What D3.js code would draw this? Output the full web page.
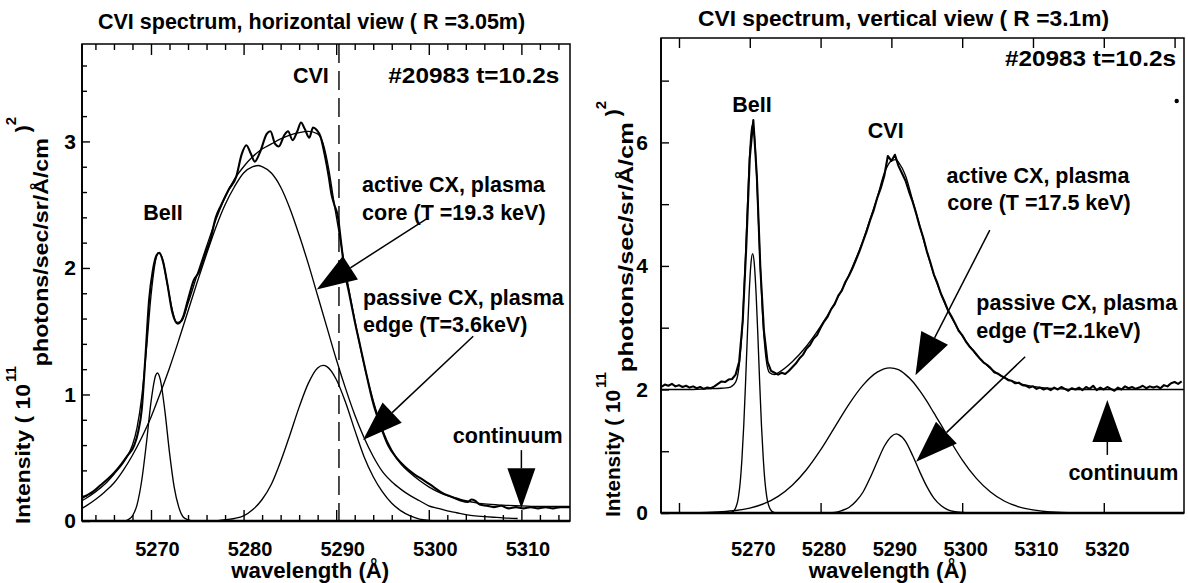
<!DOCTYPE html>
<html>
<head>
<meta charset="utf-8">
<script src="https://cdn.jsdelivr.net/npm/d3@7/dist/d3.min.js"></script>
<style>
  html, body { margin: 0; padding: 0; background: #fff; }
  svg { display: block; }
  svg text { font-family: "Liberation Sans", Arial, Helvetica, sans-serif; font-weight: bold; fill: #000; }
</style>
</head>
<body>
<svg id="figure" width="1188" height="583"></svg>
<script>
// ================= Horizontal view, R = 3.05 m =================
const hTitle = "CVI spectrum, horizontal view ( R =3.05m)";
const hShot = "#20983 t=10.2s";
const hWavelengthDomain = [5262.55, 5315.25];
const hIntensityDomain = [0, 3.77];
const hXMajorTicks = [5270, 5280, 5290, 5300, 5310];
const hXMinorTicks = [5264, 5266, 5268, 5272, 5274, 5276, 5278, 5282, 5284, 5286, 5288,
                      5292, 5294, 5296, 5298, 5302, 5304, 5306, 5308, 5312, 5314];
const hYMajorTicks = [0, 1, 2, 3];
const hYMinorTicks = [0.2, 0.4, 0.6, 0.8, 1.2, 1.4, 1.6, 1.8, 2.2, 2.4, 2.6, 2.8, 3.2, 3.4, 3.6];
const hCVIRestWavelength = 5290.3;

// measured spectrum [wavelength (Å), intensity]
const hMeasured = [
  [5262.55,0.18],[5263,0.20],[5263.7,0.23],[5264.5,0.28],[5265.3,0.33],[5266,0.38],[5266.8,0.45],
  [5267.5,0.52],[5268.2,0.60],[5268.6,0.70],[5269,0.88],[5269.4,1.30],[5269.8,1.75],[5270.2,1.98],
  [5270.6,2.10],[5270.9,2.12],[5271.3,2.05],[5271.8,1.86],[5272.3,1.65],[5272.9,1.56],[5273.4,1.60],
  [5274,1.75],[5274.6,1.90],[5275.2,1.97],[5275.8,2.10],[5276.4,2.22],[5277,2.40],[5277.6,2.50],
  [5278.4,2.62],[5279.2,2.72],[5279.8,2.90],[5280.3,2.97],[5280.8,2.90],[5281.2,2.84],[5281.8,2.92],
  [5282.5,3.06],[5282.9,3.08],[5283.4,2.98],[5283.8,2.96],[5284.4,3.05],[5284.8,3.08],[5285.3,3.01],
  [5285.8,3.08],[5286.2,3.15],[5286.6,3.10],[5287.1,3.03],[5287.5,3.11],[5287.9,3.09],[5288.3,3.04],
  [5288.8,2.88],[5289.2,2.72],[5289.5,2.58],[5289.8,2.50],[5290.2,2.40],[5290.5,2.22],[5290.9,1.98],
  [5291.4,1.80],[5292,1.58],[5292.6,1.38],[5293.2,1.18],[5294,0.93],[5294.8,0.75],[5295.6,0.60],
  [5296.5,0.50],[5297.4,0.43],[5298.4,0.37],[5299.5,0.32],[5300.5,0.27],[5301.5,0.22],[5302.5,0.19],
  [5303.5,0.16],[5304.2,0.15],[5304.6,0.17],[5305,0.16],[5305.5,0.13],[5306.3,0.12],[5307,0.11],
  [5307.8,0.12],[5308.6,0.10],[5309.4,0.11],[5310.2,0.10],[5311,0.11],[5311.8,0.10],[5312.6,0.11],
  [5313.4,0.10],[5314.2,0.11],[5315.25,0.11]
];
// total fitted spectrum
const hTotalFit = [
  [5262.55,0.16],[5263,0.18],[5264,0.23],[5265,0.29],[5266,0.37],[5267,0.46],[5267.5,0.52],[5268,0.60],
  [5268.5,0.74],[5269,0.98],[5269.5,1.35],[5270,1.78],[5270.5,2.06],[5270.8,2.12],[5271.2,2.08],
  [5271.7,1.90],[5272.2,1.70],[5272.8,1.57],[5273.3,1.58],[5274,1.72],[5275,1.95],[5276,2.17],
  [5277,2.38],[5278,2.56],[5279,2.70],[5280,2.80],[5281,2.88],[5282,2.94],[5283,2.98],[5284,3.02],
  [5285,3.05],[5286,3.07],[5287,3.08],[5288,3.06],[5288.6,2.98],[5289.2,2.78],[5289.8,2.50],
  [5290.5,2.20],[5291,1.98],[5291.5,1.78],[5292,1.59],[5292.5,1.41],[5293,1.24],[5294,0.95],
  [5295,0.72],[5296,0.56],[5297,0.45],[5298,0.38],[5299,0.32],[5300,0.27],[5301,0.23],[5302,0.20],
  [5303,0.18],[5304,0.16],[5305,0.145],[5306,0.135],[5308,0.125],[5310,0.12],[5312,0.115],[5315.25,0.115]
];
// BeII line component
const hBeII = [
  [5266.5,0],[5267,0.0],[5267.5,0.01],[5268,0.04],[5268.5,0.13],[5269,0.32],[5269.5,0.61],[5270,0.94],
  [5270.5,1.15],[5270.7,1.17],[5271,1.12],[5271.5,0.87],[5272,0.54],[5272.5,0.27],[5273,0.11],
  [5273.5,0.03],[5274,0.01],[5274.5,0],[5275,0]
];
// active CX component (plasma core)
const hActiveCX = [
  [5262.55,0.10],[5263,0.12],[5264,0.17],[5265,0.23],[5266,0.30],[5267,0.40],[5268,0.52],[5269,0.66],
  [5270,0.82],[5271,1.01],[5272,1.21],[5273,1.43],[5274,1.66],[5275,1.89],[5276,2.11],[5277,2.32],
  [5278,2.50],[5279,2.64],[5280,2.75],[5281,2.80],[5281.6,2.81],[5282,2.80],[5283,2.75],[5284,2.64],
  [5285,2.47],[5286,2.26],[5287,2.03],[5288,1.78],[5289,1.53],[5290,1.28],[5291,1.05],[5292,0.84],
  [5293,0.66],[5294,0.51],[5295,0.39],[5296,0.31],[5297,0.25],[5298,0.20],[5299,0.16],[5300,0.12],
  [5301,0.10],[5302,0.08],[5303,0.065],[5304,0.05],[5305,0.04],[5306,0.035],[5307,0.03],[5308,0.025],
  [5309.6,0.02]
];
// passive CX component (plasma edge)
const hPassiveCX = [
  [5277,0],[5278,0.01],[5279,0.02],[5280,0.04],[5281,0.09],[5282,0.17],[5283,0.29],[5284,0.47],
  [5285,0.68],[5286,0.90],[5287,1.09],[5288,1.21],[5288.6,1.23],[5289,1.22],[5290,1.12],[5291,0.94],
  [5292,0.72],[5293,0.51],[5294,0.35],[5295,0.23],[5296,0.14],[5297,0.08],[5298,0.04],[5299,0.015],
  [5300,0.005],[5301,0]
];
const hArrows = [
  { tail: [5299.8, 2.39], tip: [5287.9, 1.83] },
  { tail: [5304.8, 1.46], tip: [5292.9, 0.64] },
  { tail: [5310.0, 0.56], tip: [5310.0, 0.10] }
];
const hLabels = [
  { text: "CVI", at: [5289.2, 3.46], anchor: "end" },
  { text: hShot, at: [5314.1, 3.46], anchor: "end", fit: 171 },
  { text: "BeII", at: [5271.3, 2.38], anchor: "middle" },
  { text: "active CX, plasma", at: [5292.8, 2.60], anchor: "start" },
  { text: "core (T =19.3 keV)", at: [5292.8, 2.38], anchor: "start" },
  { text: "passive CX, plasma", at: [5292.9, 1.71], anchor: "start" },
  { text: "edge (T=3.6keV)", at: [5292.9, 1.49], anchor: "start" },
  { text: "continuum", at: [5302.6, 0.62], anchor: "start" }
];

// ================= Vertical view, R = 3.1 m =================
const vTitle = "CVI spectrum, vertical view ( R =3.1m)";
const vShot = "#20983 t=10.2s";
const vWavelengthDomain = [5257.46, 5331.33];
const vIntensityDomain = [0, 7.69];
const vXTopTicks = [5260, 5270, 5280, 5290, 5300, 5310, 5320, 5330];
const vXBottomTicks = [5260, 5280, 5300, 5320];
const vXTickLabels = [5270, 5280, 5290, 5300, 5310, 5320];
const vYTicks = [0, 1, 2, 3, 4, 5, 6, 7];
const vYTickLabels = [0, 2, 4, 6];

// measured spectrum, one value per 0.5 Å channel starting at 5257.5 Å
const vChannelStart = 5257.5;
const vChannelWidth = 0.5;
const vMeasured = [
  2.04,2.08,2.06,2.09,2.05,2.07,2.04,2.06,2.03,2.05,2.02,2.04,2.01,2.03,2.02,2.05,2.09,2.13,2.12,2.16,
  2.17,2.24,2.45,3.10,4.30,5.75,6.36,5.45,3.95,2.95,2.45,2.30,2.27,2.24,2.27,2.25,2.30,2.36,2.42,2.50,
  2.56,2.66,2.72,2.82,2.88,3.00,3.10,3.18,3.30,3.38,3.52,3.60,3.74,3.84,3.96,4.10,4.24,4.40,4.56,4.74,
  4.90,5.10,5.26,5.46,5.78,5.70,5.80,5.62,5.50,5.38,5.20,5.04,4.85,4.64,4.46,4.24,4.06,3.86,3.72,3.55,
  3.42,3.28,3.18,3.07,2.95,2.88,2.78,2.70,2.64,2.57,2.50,2.44,2.40,2.35,2.28,2.26,2.22,2.19,2.15,2.14,
  2.10,2.11,2.07,2.06,2.03,2.05,2.01,2.03,2.00,2.02,1.99,2.03,2.00,2.04,2.01,1.98,2.02,2.00,2.03,1.99,
  2.04,2.01,2.06,1.99,2.03,2.00,2.04,2.01,1.98,2.03,2.00,2.05,2.02,2.04,2.01,2.03,2.06,2.02,2.05,2.03,
  2.05,2.02,2.07,2.05,2.10,2.12,2.09,2.13
];
const vTotalFit = [
  [5257.46,2.00],[5262,2.00],[5264,2.01],[5266,2.02],[5267,2.03],[5268,2.12],[5268.5,2.39],[5269,3.13],
  [5269.4,4.16],[5269.7,5.06],[5270,5.84],[5270.2,6.17],[5270.4,6.29],[5270.6,6.18],[5270.8,5.86],
  [5271.1,5.10],[5271.4,4.22],[5271.8,3.22],[5272.3,2.50],[5272.8,2.27],[5273.5,2.24],[5274,2.27],
  [5276,2.45],[5278,2.70],[5280,3.02],[5282,3.40],[5283,3.61],[5284,3.85],[5285,4.12],[5286,4.41],
  [5287,4.76],[5288,5.11],[5289,5.50],[5290,5.70],[5290.7,5.72],[5291,5.68],[5292,5.46],[5293,5.06],
  [5294,4.65],[5295,4.24],[5296,3.86],[5297,3.55],[5298,3.28],[5299,3.06],[5300,2.87],[5302,2.56],
  [5304,2.34],[5306,2.19],[5308,2.10],[5310,2.05],[5312,2.02],[5314,2.01],[5316,2.00],[5331.33,2.00]
];
const vBeII = [
  [5266.4,0],[5266.9,0],[5267.4,0.01],[5267.9,0.06],[5268.4,0.26],[5268.65,0.50],[5268.9,0.89],
  [5269.15,1.42],[5269.4,2.10],[5269.65,2.85],[5269.9,3.53],[5270.15,4.02],[5270.4,4.20],[5270.65,4.02],
  [5270.9,3.53],[5271.15,2.85],[5271.4,2.10],[5271.65,1.42],[5271.9,0.89],[5272.15,0.50],[5272.4,0.26],
  [5272.9,0.06],[5273.4,0.01],[5273.9,0],[5274.4,0]
];
const vActiveCX = [
  [5262,0],[5264,0.01],[5266,0.02],[5268,0.04],[5270,0.08],[5272,0.15],[5274,0.27],[5276,0.45],
  [5278,0.70],[5280,1.02],[5282,1.39],[5284,1.76],[5286,2.07],[5288,2.28],[5289.8,2.35],[5291,2.32],
  [5292,2.24],[5293,2.13],[5294,1.98],[5295,1.81],[5296,1.62],[5297,1.43],[5298,1.23],[5299,1.04],
  [5300,0.86],[5302,0.56],[5304,0.34],[5306,0.19],[5308,0.10],[5310,0.05],[5312,0.02],[5314,0.01],[5316,0]
];
const vPassiveCX = [
  [5280,0],[5282,0.01],[5283,0.04],[5284,0.09],[5285,0.19],[5286,0.34],[5287,0.57],[5288,0.83],
  [5289,1.08],[5290,1.24],[5290.7,1.28],[5291,1.27],[5292,1.16],[5293,0.93],[5294,0.67],[5295,0.43],
  [5296,0.24],[5297,0.12],[5298,0.05],[5299,0.02],[5300,0.01],[5301,0]
];
const vArrows = [
  { tail: [5303.9, 4.58], tip: [5293.4, 2.23] },
  { tail: [5308.9, 2.53], tip: [5293.5, 0.83] },
  { tail: [5320.5, 0.94], tip: [5320.5, 1.83] }
];
const vLabels = [
  { text: vShot, at: [5330.2, 7.23], anchor: "end", fit: 171 },
  { text: "BeII", at: [5270.3, 6.49], anchor: "middle" },
  { text: "CVI", at: [5289.2, 6.07], anchor: "middle" },
  { text: "active CX, plasma", at: [5297.8, 5.34], anchor: "start" },
  { text: "core (T =17.5 keV)", at: [5297.9, 4.90], anchor: "start" },
  { text: "passive CX, plasma", at: [5302.0, 3.28], anchor: "start" },
  { text: "edge (T=2.1keV)", at: [5302.0, 2.83], anchor: "start" },
  { text: "continuum", at: [5315.0, 0.53], anchor: "start" }
];
const vSpeck = [5330.3, 6.67];

// ================= drawing =================
const svg = d3.select("#figure");
const defs = svg.append("defs");

function drawPanel(p) {
  const x = d3.scaleLinear().domain(p.xDomain).range([p.box.left, p.box.right]);
  const y = d3.scaleLinear().domain(p.yDomain).range([p.box.bottom, p.box.top]);
  const g = svg.append("g");

  defs.append("clipPath").attr("id", p.id + "-clip").append("rect")
    .attr("x", p.box.left).attr("y", p.box.top)
    .attr("width", p.box.right - p.box.left).attr("height", p.box.bottom - p.box.top);
  const plot = g.append("g").attr("clip-path", `url(#${p.id}-clip)`);

  // tick marks pointing into the frame
  const ticks = (axisFn, values, size, tr) => {
    if (!values || !values.length) return;
    g.append("g").attr("transform", tr)
      .call(axisFn(axisFn === d3.axisBottom || axisFn === d3.axisTop ? x : y)
        .tickValues(values).tickSizeInner(-size).tickSizeOuter(0).tickFormat(""))
      .call(a => a.select(".domain").remove())
      .call(a => a.selectAll("line").attr("stroke", "#000").attr("stroke-width", 1.4));
  };
  ticks(d3.axisBottom, p.xBottomMajor, p.majorLen, `translate(0,${p.box.bottom})`);
  ticks(d3.axisBottom, p.xBottomMinor, p.minorLen, `translate(0,${p.box.bottom})`);
  ticks(d3.axisTop, p.xTopMajor, p.majorLen, `translate(0,${p.box.top})`);
  ticks(d3.axisTop, p.xTopMinor, p.minorLen, `translate(0,${p.box.top})`);
  ticks(d3.axisLeft, p.yMajor, p.yMajorLen, `translate(${p.box.left},0)`);
  ticks(d3.axisLeft, p.yMinor, p.yMinorLen, `translate(${p.box.left},0)`);

  // tick labels
  g.append("g").attr("transform", `translate(${p.xLabelShift},${p.box.bottom})`)
    .call(d3.axisBottom(x).tickValues(p.xLabels).tickSize(0).tickPadding(p.xLabelPad).tickFormat(d3.format("d")))
    .call(a => a.select(".domain").remove())
    .call(a => a.selectAll("text").attr("dy", null))
    .attr("font-size", 20).attr("font-family", null);
  g.append("g").attr("transform", `translate(${p.box.left},0)`)
    .call(d3.axisLeft(y).tickValues(p.yLabels).tickSize(0).tickPadding(p.yLabelPad).tickFormat(d3.format("d")))
    .call(a => a.select(".domain").remove())
    .attr("font-size", 21).attr("font-family", null);

  // spectra
  const smooth = d3.line().x(d => x(d[0])).y(d => y(d[1])).curve(d3.curveMonotoneX);
  const raw = d3.line().x(d => x(d[0])).y(d => y(d[1]));
  p.components.forEach(c => plot.append("path").attr("d", smooth(c)).attr("fill", "none")
    .attr("stroke", "#000").attr("stroke-width", 1.35).attr("stroke-linejoin", "round"));
  plot.append("path").attr("d", smooth(p.fit)).attr("fill", "none")
    .attr("stroke", "#000").attr("stroke-width", 1.35);
  plot.append("path").attr("d", (p.measuredSmooth ? smooth : raw)(p.measured)).attr("fill", "none")
    .attr("stroke", "#000").attr("stroke-width", p.measuredWidth).attr("stroke-linejoin", "round");

  if (p.restLine !== undefined) {
    plot.append("line").attr("x1", x(p.restLine)).attr("x2", x(p.restLine))
      .attr("y1", p.box.top).attr("y2", p.box.bottom)
      .attr("stroke", "#000").attr("stroke-width", 1.4).attr("stroke-dasharray", "19,8");
  }

  // frame
  g.append("rect").attr("x", p.box.left).attr("y", p.box.top)
    .attr("width", p.box.right - p.box.left).attr("height", p.box.bottom - p.box.top)
    .attr("fill", "none").attr("stroke", "#000").attr("stroke-width", 1.5);
  g.append("line").attr("x1", p.box.left).attr("x2", p.box.right)
    .attr("y1", p.box.bottom).attr("y2", p.box.bottom).attr("stroke", "#000").attr("stroke-width", 2.6);
  g.append("line").attr("x1", p.box.left).attr("x2", p.box.left)
    .attr("y1", p.box.top).attr("y2", p.box.bottom).attr("stroke", "#000").attr("stroke-width", 1.8);

  // annotation arrows
  p.arrows.forEach(a => {
    const tip = [x(a.tip[0]), y(a.tip[1])], tail = [x(a.tail[0]), y(a.tail[1])];
    const dx = tail[0] - tip[0], dy = tail[1] - tip[1], len = Math.hypot(dx, dy);
    const ux = dx / len, uy = dy / len, nx = -uy, ny = ux;
    const bx = tip[0] + ux * p.headLen, by = tip[1] + uy * p.headLen;
    g.append("line").attr("x1", tail[0]).attr("y1", tail[1]).attr("x2", bx).attr("y2", by)
      .attr("stroke", "#000").attr("stroke-width", 1.5);
    g.append("path")
      .attr("d", `M${tip[0]},${tip[1]}L${bx + nx * p.headWidth / 2},${by + ny * p.headWidth / 2}` +
                 `L${bx - nx * p.headWidth / 2},${by - ny * p.headWidth / 2}Z`)
      .attr("fill", "#000");
  });

  // annotation text
  p.labels.forEach(l => {
    const t = g.append("text").attr("x", x(l.at[0])).attr("y", y(l.at[1]))
      .attr("text-anchor", l.anchor).attr("font-size", 21.5).text(l.text);
    if (l.fit) t.attr("textLength", l.fit).attr("lengthAdjust", "spacingAndGlyphs");
  });
  if (p.speck) g.append("circle").attr("cx", x(p.speck[0])).attr("cy", y(p.speck[1])).attr("r", 2.2);

  // title
  const title = g.append("text").attr("x", p.title.x).attr("y", p.title.y)
    .attr("font-size", 21.5).text(p.title.text);
  if (p.title.fit) title.attr("textLength", p.title.fit).attr("lengthAdjust", "spacingAndGlyphs");

  // axis titles
  g.append("text").attr("x", x(p.xTitleAt)).attr("y", p.xTitleY).attr("text-anchor", "middle")
    .attr("font-size", 21.5).attr("textLength", 158).attr("lengthAdjust", "spacingAndGlyphs")
    .text("wavelength (Å)");
  const t = p.yTitle;
  const yt = g.append("text").attr("transform", `translate(${t.x},${t.y}) rotate(-90)`)
    .attr("font-size", 21);
  yt.append("tspan").attr("textLength", t.lead).attr("lengthAdjust", "spacingAndGlyphs")
    .text("Intensity ( 10");
  yt.append("tspan").attr("dx", 2).attr("dy", -14).attr("font-size", 15).text("11");
  yt.append("tspan").attr("dy", 14 + t.drop).attr("textLength", t.unit).attr("lengthAdjust", "spacingAndGlyphs")
    .text("photons/sec/sr/Å/cm");
  yt.append("tspan").attr("dy", -t.drop).text(" )");
  yt.append("tspan").attr("dy", -14).attr("font-size", 15).text("2");
}

drawPanel({
  id: "horizontal",
  box: { left: 82, right: 570, top: 44, bottom: 521 },
  xDomain: hWavelengthDomain, yDomain: hIntensityDomain,
  xBottomMajor: hXMajorTicks, xBottomMinor: hXMinorTicks,
  xTopMajor: hXMajorTicks, xTopMinor: hXMinorTicks,
  majorLen: 11, minorLen: 6,
  yMajor: hYMajorTicks, yMinor: hYMinorTicks, yMajorLen: 8, yMinorLen: 5,
  xLabels: hXMajorTicks, xLabelPad: 35, xLabelShift: 6,
  yLabels: hYMajorTicks, yLabelPad: 6,
  components: [hBeII, hActiveCX, hPassiveCX],
  fit: hTotalFit, measured: hMeasured, measuredSmooth: true, measuredWidth: 2.1,
  restLine: hCVIRestWavelength,
  arrows: hArrows, headLen: 40, headWidth: 28,
  labels: hLabels,
  title: { text: hTitle, x: 98, y: 29 },
  xTitleAt: 5287.2, xTitleY: 578,
  yTitle: { x: 30, y: 524, lead: 140, unit: 228, drop: 18 }
});

drawPanel({
  id: "vertical",
  box: { left: 661, right: 1184, top: 38, bottom: 513 },
  xDomain: vWavelengthDomain, yDomain: vIntensityDomain,
  xBottomMajor: vXBottomTicks, xBottomMinor: [],
  xTopMajor: vXTopTicks, xTopMinor: [],
  majorLen: 10, minorLen: 6,
  yMajor: vYTicks, yMinor: [], yMajorLen: 8, yMinorLen: 5,
  xLabels: vXTickLabels, xLabelPad: 43, xLabelShift: 3,
  yLabels: vYTickLabels, yLabelPad: 13,
  components: [vBeII, vActiveCX, vPassiveCX],
  fit: vTotalFit,
  measured: vMeasured.map((v, i) => [vChannelStart + i * vChannelWidth, v]),
  measuredSmooth: false, measuredWidth: 2.1,
  arrows: vArrows, headLen: 42, headWidth: 30,
  labels: vLabels, speck: vSpeck,
  title: { text: vTitle, x: 698, y: 26, fit: 411 },
  xTitleAt: 5289.5, xTitleY: 578,
  yTitle: { x: 620, y: 517, lead: 127, unit: 250, drop: 13 }
});
</script>
</body>
</html>
